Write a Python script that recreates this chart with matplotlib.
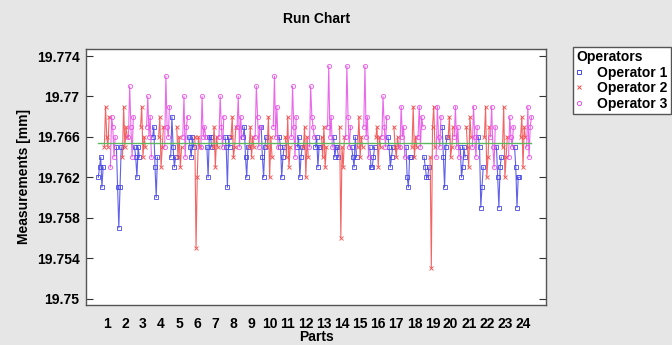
import matplotlib
matplotlib.use("Agg")
import matplotlib.pyplot as plt
from matplotlib.lines import Line2D
import numpy as np

plt.rcParams['font.family'] = ['Liberation Sans', 'DejaVu Sans']
plt.rcParams['font.weight'] = 'bold'

parts = list(range(1, 25))
operators = ['Operator 1', 'Operator 2', 'Operator 3']

# measurements per part, in micrometres above 19.750 mm (5 trials each)
op1 = [[12, 13, 14, 11, 13], [15, 11, 7, 11, 15], [15, 14, 12, 15, 14], [16, 17, 13, 10, 14],
       [14, 18, 15, 13, 14], [16, 15, 14, 16, 15], [15, 12, 16, 16, 15], [16, 15, 11, 16, 15],
       [16, 17, 14, 12, 15], [17, 14, 12, 15, 16], [16, 15, 12, 14, 15], [15, 16, 12, 14, 15],
       [15, 16, 13, 15, 15], [16, 14, 15, 15, 14], [15, 14, 13, 16, 14], [15, 13, 13, 14, 15],
       [16, 15, 13, 14, 15], [15, 12, 11, 14, 14], [14, 13, 12, 12, 13], [17, 14, 11, 15, 16],
       [15, 12, 13, 15, 14], [16, 15, 9, 11, 13], [15, 12, 9, 13, 14], [15, 13, 9, 12, 12]]
op2 = [[15, 19, 16, 15, 18], [14, 19, 15, 17, 16], [17, 19, 14, 16, 15], [16, 18, 13, 15, 17],
       [17, 14, 16, 13, 15], [16, 5, 12, 16, 15], [15, 17, 13, 16, 15], [16, 18, 14, 15, 17],
       [15, 17, 14, 16, 15], [15, 18, 12, 16, 14], [16, 14, 18, 13, 15], [15, 17, 12, 16, 14],
       [16, 14, 17, 13, 15], [17, 6, 15, 13, 16], [15, 18, 14, 16, 15], [16, 17, 13, 16, 15],
       [17, 15, 14, 16, 15], [15, 19, 14, 16, 15], [14, 3, 17, 19, 15], [16, 18, 14, 15, 17],
       [17, 15, 13, 18, 16], [16, 19, 12, 14, 17], [15, 19, 12, 14, 16], [16, 18, 13, 17, 16]]
op3 = [[13, 18, 17, 14, 16], [16, 21, 17, 14, 18], [17, 20, 16, 18, 14], [15, 22, 17, 16, 19],
       [16, 20, 14, 17, 18], [15, 20, 16, 17, 16], [16, 20, 17, 15, 18], [17, 20, 15, 18, 16],
       [16, 21, 18, 15, 17], [17, 22, 16, 19, 15], [16, 21, 17, 14, 18], [15, 21, 18, 17, 16],
       [17, 23, 16, 18, 15], [16, 23, 18, 15, 17], [17, 23, 16, 18, 14], [16, 20, 17, 15, 18],
       [15, 19, 16, 17, 14], [16, 19, 15, 18, 17], [14, 19, 16, 15, 18], [16, 19, 15, 17, 14],
       [15, 19, 16, 14, 17], [16, 19, 15, 13, 17], [14, 18, 16, 15, 17], [15, 19, 14, 17, 18]]

base = 19.750
yticks = [19.75, 19.754, 19.758, 19.762, 19.766, 19.77, 19.774]

colors = ['#4646e6', '#f04a4a', '#e650e6']
markers = ['s', 'x', 'o']

fig = plt.figure(figsize=(6.72, 3.45), dpi=100, facecolor='#e6e6e6')
ax = fig.add_axes([0.1287, 0.116, 0.6838, 0.742])

data = [np.array(op1), np.array(op2), np.array(op3)]
n = data[0].shape[1]
step = 1.0 / (3 * n)
for k, d in enumerate(data):
    xs, ys = [], []
    for i, p in enumerate(parts):
        x0 = p - 0.5 + k * n * step + step / 2
        xs += list(x0 + np.arange(n) * step) + [np.nan]
        ys += list(base + d[i] / 1000.0) + [np.nan]
    ax.plot(xs, ys, color=colors[k], lw=0.8, marker=markers[k], ms=3,
            mew=0.7, mfc='none', alpha=0.85)

grand_mean = base + np.mean(np.concatenate([d.ravel() for d in data])) / 1000.0
ax.plot([parts[0] - 0.5 + step / 2, parts[-1] + 0.5 - step / 2], [grand_mean, grand_mean],
        color='#5cb85c', lw=1)

ax.set_xlim(-0.12, 25.27)
ax.set_ylim(19.74936, 19.7747)
ax.set_xticks(parts)
ax.set_xticklabels([str(p) for p in parts], fontsize=10, fontweight='bold')
ax.set_yticks(yticks)
ax.set_yticklabels(['19.75', '19.754', '19.758', '19.762', '19.766', '19.77', '19.774'],
                   fontsize=10, fontweight='bold')
ax.tick_params(axis='x', length=0, pad=9)
ax.tick_params(axis='y', direction='in', length=5, pad=5, right=True, color='#333333')
for s in ax.spines.values():
    s.set_color('#555555')
    s.set_linewidth(1)

ax.set_title('Run Chart', fontsize=10, fontweight='bold', pad=19)
ax.set_xlabel('Parts', fontsize=10, fontweight='bold', labelpad=-1)
ax.set_ylabel('Measurements [mm]', fontsize=10, fontweight='bold', labelpad=4)

handles = [Line2D([], [], color=colors[k], marker=markers[k], ls='none', ms=3, mew=0.7, mfc='none')
           for k in range(3)]
leg = fig.legend(handles, operators, loc='upper left', bbox_to_anchor=(0.8527, 0.8638),
                 title='Operators', frameon=True, fancybox=False, edgecolor='#555555',
                 facecolor='white', framealpha=1, fontsize=10, handlelength=0.3,
                 handletextpad=1.2, borderpad=0.25, labelspacing=0.1, borderaxespad=0)
leg.get_title().set_fontweight('bold')
leg._legend_box.align = 'left'

fig.savefig('out.png', dpi=100, facecolor=fig.get_facecolor())
